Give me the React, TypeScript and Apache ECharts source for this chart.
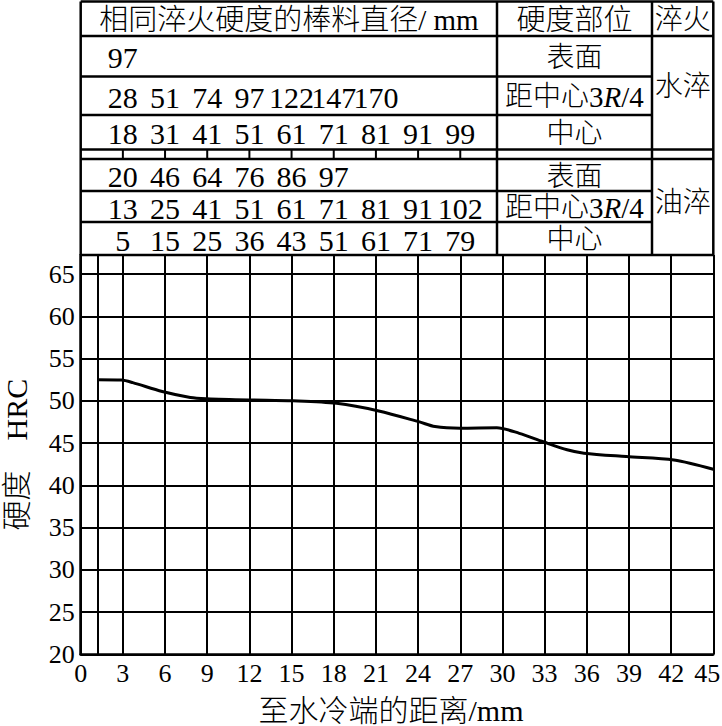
import React, { useEffect, useRef } from 'react';
import * as echarts from 'echarts';

// Curve: Jominy end-quench hardness
const distanceMm = [1.2, 2.9, 3.7, 5.8, 7.8, 9.0, 12.0, 15.1, 18.2, 21.2, 24.1, 25.2, 27.0, 29.6, 31.2, 32.9, 34.6, 35.8, 38.8, 42.2, 45.0];
const hardnessHRC = [52.5, 52.45, 52.15, 51.1, 50.4, 50.25, 50.1, 50.0, 49.7, 48.8, 47.5, 46.95, 46.75, 46.8, 46.15, 45.15, 44.2, 43.8, 43.4, 43.0, 41.9];

// Table: bar diameters (mm) with equal hardness, listed at distances 3,6,...,27 mm
const tableDistances = [3, 6, 9, 12, 15, 18, 21, 24, 27];
const waterSurface = [97];
const waterThreeQuarter = [28, 51, 74, 97, 122, 147, 170];
const waterCenter = [18, 31, 41, 51, 61, 71, 81, 91, 99];
const oilSurface = [20, 46, 64, 76, 86, 97];
const oilThreeQuarter = [13, 25, 41, 51, 61, 71, 81, 91, 102];
const oilCenter = [5, 15, 25, 36, 43, 51, 61, 71, 79];

const headerDiameter = '相同淬火硬度的棒料直径/ mm';
const headerPosition = '硬度部位';
const headerQuench = '淬火';
const quenchNames = ['水淬', '油淬'];
const positionNames = ['表面', '距中心3R/4', '中心'];

const FONT = "'Liberation Serif', 'Noto Sans CJK SC', serif";
const CJKW = 300;

export default function App() {
  const ref = useRef<HTMLDivElement>(null);

  useEffect(() => {
    const chart = echarts.init(ref.current!, null, { renderer: 'svg' });
    chart.setOption({
      animation: false,
      grid: { left: 80.7, right: 8.7, top: 255, bottom: 71.7, containLabel: false, outerBoundsMode: 'none' },
      xAxis: {
        type: 'value',
        min: 0,
        max: 45,
        interval: 3,
        name: '至水冷端的距离/mm',
        nameLocation: 'middle',
        nameGap: 41,
        nameTextStyle: { fontFamily: FONT, fontSize: 30, color: '#000', fontWeight: CJKW, padding: [0, 12, 0, 0] },
        axisLine: { show: true, lineStyle: { color: '#000', width: 2.5 } },
        axisTick: { show: false },
        axisLabel: {
          fontFamily: FONT,
          fontSize: 26,
          color: '#000',
          margin: 6,
          formatter: (v: number) => (v === 45 ? '{r|45}' : String(v)),
          rich: { r: { fontFamily: FONT, fontSize: 26, color: '#000', padding: [0, 12, 0, 0] } },
        },
        splitLine: { show: true, lineStyle: { color: '#000', width: 2 } },
      },
      yAxis: {
        type: 'value',
        min: 20,
        max: 67.25,
        interval: 5,
        name: '硬度\u00a0\u00a0\u00a0\u00a0HRC',
        nameLocation: 'middle',
        nameGap: 51,
        nameTextStyle: { fontFamily: FONT, fontSize: 30, lineHeight: 26, color: '#000', fontWeight: CJKW },
        axisLine: { show: true, lineStyle: { color: '#000', width: 2.5 } },
        axisTick: { show: false },
        axisLabel: {
          fontFamily: FONT,
          fontSize: 26,
          color: '#000',
          margin: 6,
          formatter: (v: number) => (v % 5 === 0 && v <= 65 ? String(v) : ''),
        },
        splitLine: { show: true, lineStyle: { color: '#000', width: 2 } },
      },
      series: [
        {
          type: 'line',
          data: distanceMm.map((d, i) => [d, hardnessHRC[i]]),
          smooth: 0.3,
          symbol: 'none',
          lineStyle: { color: '#000', width: 3 },
          markLine: {
            silent: true,
            symbol: 'none',
            label: { show: false },
            lineStyle: { color: '#000', width: 2, type: 'solid' },
            data: [{ xAxis: distanceMm[0] }],
          },
        },
      ],
    });

    const px = (d: number) => chart.convertToPixel({ xAxisIndex: 0 }, d) as number;
    const left = px(0);
    const right = px(45);
    const col1 = 497;
    const col2 = 652;
    const top = 1.5;
    const bottom = 255;
    const yHead = 36;
    const yW1 = 76.5;
    const yW2 = 115;
    const ySep1 = 149.5;
    const ySep2 = 159;
    const yO1 = 191;
    const yO2 = 222;

    const lw = 2.5;
    const els: any[] = [];
    const hline = (y: number, x1: number, x2: number) =>
      els.push({ type: 'line', shape: { x1, y1: y, x2, y2: y }, style: { stroke: '#000', lineWidth: lw }, z: 10 });
    const vline = (x: number, y1: number, y2: number, w = lw) =>
      els.push({ type: 'line', shape: { x1: x, y1, x2: x, y2 }, style: { stroke: '#000', lineWidth: w }, z: 10 });
    const text = (t: string, x: number, y: number, size: number, extra: any = {}) =>
      els.push({
        type: 'text',
        x,
        y,
        z: 11,
        style: {
          text: t,
          fontFamily: FONT,
          fontSize: size,
          fontWeight: CJKW,
          fill: '#000',
          align: 'center',
          verticalAlign: 'middle',
          ...extra,
        },
      });

    // borders
    hline(top, left, right);
    hline(yHead, left, right);
    hline(yW1, left, col2);
    hline(yW2, left, col2);
    hline(ySep1, left, right);
    hline(ySep2, left, right);
    hline(yO1, left, col2);
    hline(yO2, left, col2);
    hline(bottom, left, right);
    vline(left, top, bottom);
    vline(col1, top, bottom);
    vline(col2, top, bottom);
    vline(right, top, bottom);
    // ticks in separator row
    tableDistances.forEach((d) => vline(px(d), ySep1, ySep2, 2));

    // headers
    text(headerDiameter, (left + col1) / 2, (top + yHead) / 2 + 1, 29);
    text(headerPosition, (col1 + col2) / 2, (top + yHead) / 2 + 1, 29);
    text(headerQuench, (col2 + right) / 2, (top + yHead) / 2 + 1, 28);

    // quench cells
    text(quenchNames[0], (col2 + right) / 2, 86, 28);
    text(quenchNames[1], (col2 + right) / 2, 202, 28);

    // position cells
    const rowsY = [
      (yHead + yW1) / 2,
      (yW1 + yW2) / 2,
      (yW2 + ySep1) / 2,
      (ySep2 + yO1) / 2,
      (yO1 + yO2) / 2,
      (yO2 + bottom) / 2,
    ];
    rowsY.forEach((y, i) => {
      const name = positionNames[i % 3];
      if (name.includes('3R/4')) {
        els.push({
          type: 'text',
          x: (col1 + col2) / 2,
          y: y + 1,
          z: 11,
          style: {
            text: '{a|距中心}{n|3}{i|R}{n|/4}',
            rich: {
              a: { fontFamily: FONT, fontSize: 28, fontWeight: CJKW, fill: '#000' },
              n: { fontFamily: FONT, fontSize: 29, fill: '#000' },
              i: { fontFamily: FONT, fontSize: 29, fontStyle: 'italic', fill: '#000' },
            },
            align: 'center',
            verticalAlign: 'middle',
          },
        });
      } else {
        text(name, (col1 + col2) / 2, y + 1, 28);
      }
    });

    // numbers
    const rows = [waterSurface, waterThreeQuarter, waterCenter, oilSurface, oilThreeQuarter, oilCenter];
    rows.forEach((vals, ri) => {
      vals.forEach((v, i) => {
        text(String(v), px(tableDistances[i]), rowsY[ri] + 1.5, 30, { fontWeight: 'normal' });
      });
    });

    chart.setOption({ graphic: { elements: els } });

    return () => chart.dispose();
  }, []);

  return (
    <div
      ref={ref}
      style={{ position: 'fixed', left: 0, top: 0, width: 722, height: 726, background: '#fff' }}
    />
  );
}
